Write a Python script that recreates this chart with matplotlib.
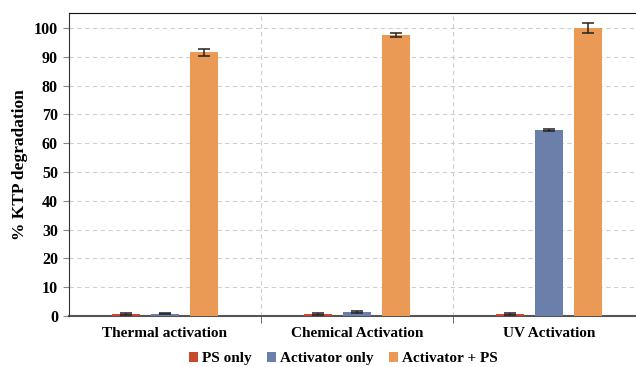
import matplotlib
matplotlib.use("Agg")
import matplotlib.pyplot as plt
import numpy as np

categories = ["Thermal activation", "Chemical Activation", "UV Activation"]
series_names = ["PS only", "Activator only", "Activator + PS"]
ps_only = [0.7, 0.8, 0.8]
activator_only = [0.8, 1.3, 64.5]
activator_ps = [91.5, 97.5, 100.0]
ps_only_err = [0.2, 0.3, 0.3]
activator_only_err = [0.2, 0.3, 0.4]
activator_ps_err = [1.2, 0.6, 1.6]
yticks = list(range(0, 101, 10))

colors = ["#C9492D", "#6A7FAA", "#EB9A55"]

plt.rcParams["font.family"] = ["Liberation Serif", "DejaVu Serif"]
plt.rcParams["font.weight"] = "bold"

fig = plt.figure(figsize=(6.36, 3.67), dpi=100)
ax = fig.add_axes([69 / 636, 1 - 316 / 367, 1 - 69 / 636, (316 - 13) / 367])

x = np.arange(len(categories))
width = 0.146
offset = 0.203
values = [ps_only, activator_only, activator_ps]
errors = [ps_only_err, activator_only_err, activator_ps_err]
for i, (vals, errs, name, c) in enumerate(zip(values, errors, series_names, colors)):
    ax.bar(x + (i - 1) * offset, vals, width, color=c, label=name, zorder=3,
           yerr=errs, error_kw=dict(ecolor="#222222", elinewidth=1.1, capsize=4, capthick=1.1, zorder=4))

ax.set_xlim(-0.5, -0.5 + (636 - 69) / 192)
ax.set_ylim(0, 105.2)
ax.set_yticks(yticks)
ax.set_yticklabels([str(v) for v in yticks], fontsize=11.5, fontweight="bold")
ax.set_xticks(x)
ax.set_xticklabels(categories, fontsize=11, fontweight="bold")
ax.tick_params(axis="x", length=0, pad=8)
ax.tick_params(axis="y", length=4, color="#888888", pad=4)

# group separators
ax.set_xticks([0.5, 1.5], minor=True)
ax.tick_params(axis="x", which="minor", length=5, color="#555555")
ax.grid(True, axis="x", which="minor", linestyle=(0, (4, 3)), color="#CFCFCF", linewidth=0.8, zorder=0)
ax.grid(True, axis="y", which="major", linestyle=(0, (4, 3)), color="#CFCFCF", linewidth=0.8, zorder=0)

ax.spines["right"].set_visible(False)
ax.spines["top"].set_color("#111111")
ax.spines["left"].set_color("#333333")
ax.spines["bottom"].set_color("#555555")
ax.spines["bottom"].set_linewidth(1.5)
ax.spines["bottom"].set_zorder(2)

ax.set_ylabel("% KTP degradation", fontsize=12.5, fontweight="bold", labelpad=4)

leg = fig.legend(loc="lower center", bbox_to_anchor=(0.54, -0.033), ncol=3, frameon=False,
                 prop=dict(size=11, weight="bold"), handlelength=0.6, handleheight=0.6,
                 handletextpad=0.25, columnspacing=1.0)

fig.savefig("out.png", dpi=100)
